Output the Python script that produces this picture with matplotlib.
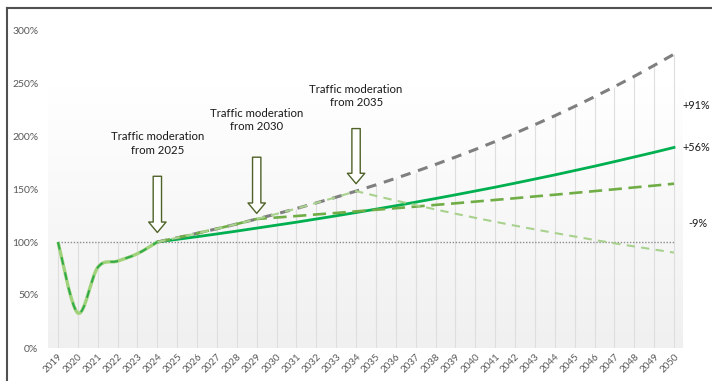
import numpy as np
import matplotlib.pyplot as plt
from matplotlib.path import Path
from matplotlib.patches import PathPatch
from matplotlib.colors import LinearSegmentedColormap

plt.rcParams['font.family'] = ['Lato', 'DejaVu Sans']

# historical traffic index (2019 = 100%)
hist_years = [2019, 2020, 2021, 2022, 2023, 2024]
hist_vals = [100, 33, 76, 82, 89, 100]

years = list(range(2024, 2051))
# no moderation (grey dashed)
baseline = [100.0, 104.0, 108.2, 112.5, 117.0, 121.7, 126.5, 131.6, 136.9, 142.3,
            148.0, 153.9, 160.1, 166.5, 173.2, 180.1, 187.3, 194.8, 202.6, 210.7,
            219.1, 227.9, 237.0, 246.5, 256.3, 266.6, 277.2]
# moderation from 2025 (solid green)
mod_2025 = [100.0, 102.5, 105.0, 107.6, 110.3, 113.1, 115.9, 118.7, 121.7, 124.7,
            127.8, 131.0, 134.2, 137.6, 141.0, 144.5, 148.1, 151.7, 155.5, 159.4,
            163.3, 167.4, 171.5, 175.8, 180.2, 184.6, 189.2]
# moderation from 2030 (green long dash)
mod_2030 = [100.0, 104.0, 108.2, 112.5, 117.0, 121.7, 123.1, 124.5, 126.0, 127.4,
            128.9, 130.4, 131.9, 133.4, 135.0, 136.5, 138.1, 139.7, 141.3, 143.0,
            144.6, 146.3, 148.0, 149.7, 151.5, 153.2, 155.0]
# moderation from 2035 (light green dash)
mod_2035 = [100.0, 104.0, 108.2, 112.5, 117.0, 121.7, 126.5, 131.6, 136.9, 142.3,
            148.0, 143.5, 139.1, 134.8, 130.7, 126.7, 122.8, 119.1, 115.4, 111.9,
            108.5, 105.2, 101.9, 98.8, 95.8, 92.9, 90.0]

all_years = list(range(2019, 2051))
end_labels = ['+91%', '+56%', '-9%']
end_label_y = [229, 189, 117]

notes = ['Traffic moderation\nfrom 2025', 'Traffic moderation\nfrom 2030',
         'Traffic moderation\nfrom 2035']
note_x = [2024, 2029, 2034]
note_text_y = [193, 215, 238]
arrow_top = [162, 180, 207]
arrow_tip = [109, 127, 155]

W, H = 712, 381
fig = plt.figure(figsize=(W / 100, H / 100), dpi=100)
ax = fig.add_axes([48 / W, 1 - 348 / H, (683 - 48) / W, (348 - 30) / H])
x0, x1 = 2019 - 10 / 19.87, 2050 + 9 / 19.87
ax.set_xlim(x0, x1)
ax.set_ylim(0, 300)

# plot area gradient
grad = np.linspace(0, 1, 256).reshape(-1, 1)
cmap = LinearSegmentedColormap.from_list('g', ['#ffffff', '#f0f0f0'])
ax.imshow(grad, cmap=cmap, extent=[x0, x1, 0, 248], aspect='auto', origin='upper', zorder=0)

# drop lines from the highest value of each year
tops = []
for y in all_years:
    v = [100]
    if y in hist_years:
        v.append(hist_vals[hist_years.index(y)])
    if y in years:
        i = years.index(y)
        v += [baseline[i], mod_2025[i], mod_2030[i], mod_2035[i]]
    tops.append(max(v))
ax.vlines(all_years, 0, tops, color='#dedede', lw=0.8, zorder=1)

# 100% reference
ax.plot([2019, 2050], [100, 100], color='#8c8c8c', lw=1, ls=(0, (1, 1.2)), zorder=2)

ax.plot(years, mod_2025, color='#00b050', lw=2, zorder=3)
ax.plot(years, baseline, color='#7f7f7f', lw=2.2, ls=(0, (3.3, 2.6)), zorder=4)
ax.plot(years, mod_2030, color='#70ad47', lw=1.9, ls=(0, (5, 2.5)), zorder=5)
ax.plot(years, mod_2035, color='#a9d18e', lw=1.5, ls=(0, (4, 3)), zorder=6)

# smoothed history curve (catmull-rom as bezier segments)
pts = np.column_stack([hist_years, hist_vals]).astype(float)
ext = np.vstack([pts[0], pts, pts[-1]])
verts = [tuple(pts[0])]
codes = [Path.MOVETO]
for i in range(1, len(ext) - 2):
    p0, p1, p2, p3 = ext[i - 1], ext[i], ext[i + 1], ext[i + 2]
    c1 = p1 + (p2 - p0) / 6
    c2 = p2 - (p3 - p1) / 6
    verts += [tuple(c1), tuple(c2), tuple(p2)]
    codes += [Path.CURVE4] * 3
hist_path = Path(verts, codes)
ax.add_patch(PathPatch(hist_path, fill=False, ec='#9fd27a', lw=2.4, zorder=7))
ax.add_patch(PathPatch(hist_path, fill=False, ec='#2eaa48', lw=1.4, ls=(0, (4, 4)), zorder=8))

# annotations
for t, x, ty, a0, a1 in zip(notes, note_x, note_text_y, arrow_top, arrow_tip):
    ax.text(x, ty, t, ha='center', va='center', fontsize=8.2, color='#1a1a1a',
            linespacing=1.25, zorder=9)
    ax.annotate('', xy=(x, a1), xytext=(x, a0),
                arrowprops=dict(arrowstyle='simple,head_length=0.75,head_width=1.25,tail_width=0.6',
                                mutation_scale=10, fc='white', ec='#4f6228', lw=1,
                                shrinkA=0, shrinkB=0), zorder=9)

for t, yv in zip(end_labels, end_label_y):
    ax.text(2050.45 if t[0] == '+' else 2050.7, yv, t, ha='left', va='center',
            fontsize=7.8, color='#1a1a1a', clip_on=False)

ax.set_yticks([0, 50, 100, 150, 200, 250, 300])
ax.set_yticklabels(['0%', '50%', '100%', '150%', '200%', '250%', '300%'])
ax.set_xticks(all_years)
ax.set_xticklabels([str(y) for y in all_years], rotation=45, ha='right',
                   rotation_mode='anchor')
ax.tick_params(axis='y', length=0, pad=7, labelsize=7.5, labelcolor='#595959')
ax.tick_params(axis='x', length=0, pad=3, labelsize=7, labelcolor='#595959')
for s in ax.spines.values():
    s.set_visible(False)

# outer frame (top and left edges)
fig.add_artist(plt.Line2D([7 / W, 7 / W], [0, 1 - 8 / H], color='#505050', lw=1.5))
fig.add_artist(plt.Line2D([7 / W, 1], [1 - 8 / H, 1 - 8 / H], color='#505050', lw=1.5))

fig.savefig('out.png', dpi=100)
